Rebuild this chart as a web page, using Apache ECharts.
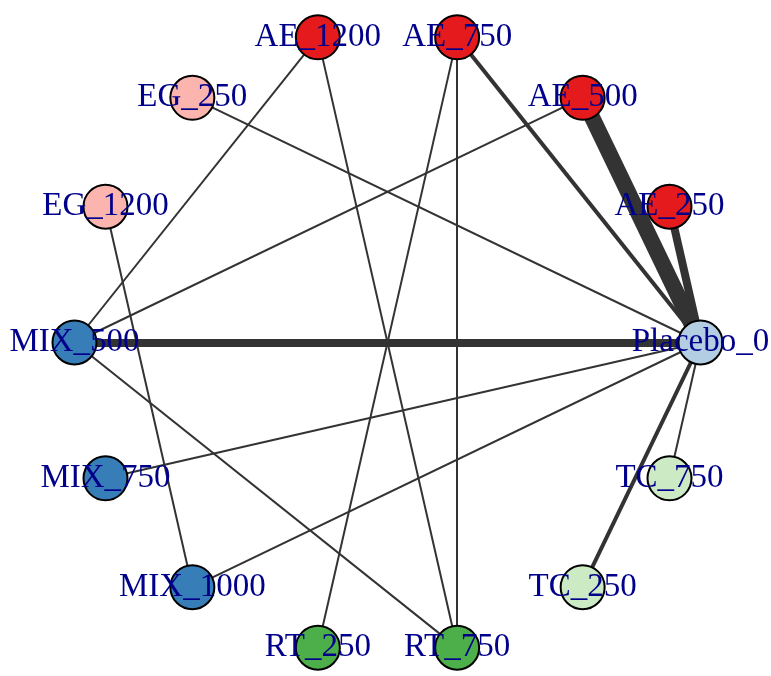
<!DOCTYPE html>
<html>
<head>
<meta charset="utf-8">
<script src="https://cdn.jsdelivr.net/npm/echarts@6/dist/echarts.min.js"></script>
<style>
html,body{margin:0;padding:0;background:#fff;}
#chart{width:771px;height:676px;}
</style>
</head>
<body>
<div id="chart"></div>
<script>
// Treatments, clockwise from Placebo_0 (angle slot index = array index)
var nodeNames = ['Placebo_0','TC_750','TC_250','RT_750','RT_250','MIX_1000','MIX_750','MIX_500','EG_1200','EG_250','AE_1200','AE_750','AE_500','AE_250'];
var nodeGroups = ['Placebo','TC','TC','RT','RT','MIX','MIX','MIX','EG','EG','AE','AE','AE','AE'];
var groupColors = {Placebo:'#B3CDE3', TC:'#CCEBC5', RT:'#4DAF4A', MIX:'#377EB8', EG:'#FBB4AE', AE:'#E41A1C'};

// Comparisons (edges) and number of studies per comparison
var edgeFrom    = ['MIX_500','AE_500','AE_250','AE_750','TC_250','TC_750','EG_250','MIX_750','MIX_1000','AE_1200','AE_500','MIX_500','AE_1200','AE_750','AE_750','EG_1200'];
var edgeTo      = ['Placebo_0','Placebo_0','Placebo_0','Placebo_0','Placebo_0','Placebo_0','Placebo_0','Placebo_0','Placebo_0','MIX_500','MIX_500','RT_750','RT_750','RT_750','RT_250','MIX_1000'];
var edgeStudies = [4, 8, 4, 2, 2, 1, 1, 1, 1, 1, 1, 1, 1, 1, 1, 1];

var nodes = nodeNames.map(function(n, i){
  return {
    name: n,
    value: [1, i],
    itemStyle: {color: groupColors[nodeGroups[i]]}
  };
});
var links = edgeFrom.map(function(s, i){
  return {source: s, target: edgeTo[i], lineStyle: {width: edgeStudies[i] * 2}};
});

var chart = echarts.init(document.getElementById('chart'), null, {renderer: 'canvas'});
chart.setOption({
  backgroundColor: '#ffffff',
  animation: false,
  polar: {center: [387.5, 342.5], radius: 313},
  angleAxis: {type: 'value', min: 0, max: nodeNames.length, startAngle: 0, clockwise: true, show: false},
  radiusAxis: {type: 'value', min: 0, max: 1, show: false},
  series: [{
    type: 'graph',
    coordinateSystem: 'polar',
    polarIndex: 0,
    symbol: 'circle',
    symbolSize: 44,
    itemStyle: {borderColor: '#000000', borderWidth: 2},
    lineStyle: {color: '#333333', opacity: 1, curveness: 0},
    label: {
      show: true,
      position: 'inside',
      fontFamily: 'Liberation Serif',
      fontSize: 33,
      color: '#00008B'
    },
    emphasis: {disabled: true},
    data: nodes,
    links: links
  }]
});
</script>
</body>
</html>
